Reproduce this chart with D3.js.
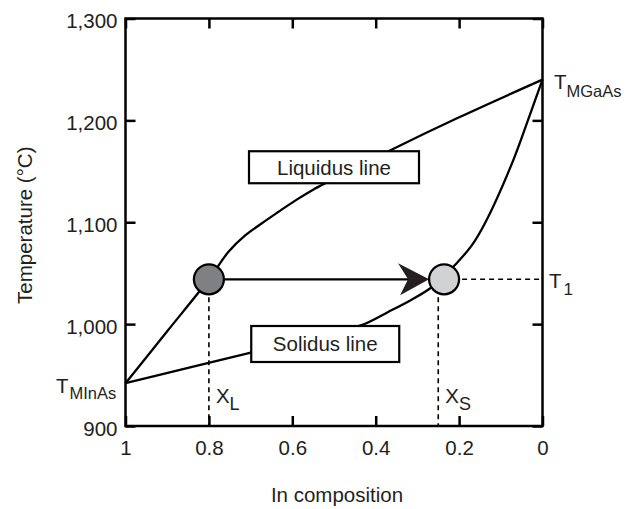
<!DOCTYPE html>
<html>
<head>
<meta charset="utf-8">
<script src="https://cdn.jsdelivr.net/npm/d3@7"></script>
<style>
  body { margin: 0; background: #fff; }
  svg { display: block; font-family: "Liberation Sans", Arial, Helvetica, sans-serif; }
</style>
</head>
<body>
<div id="chart"></div>
<script>
// In composition (x) vs temperature (y)
const xTicks = [1, 0.8, 0.6, 0.4, 0.2, 0];
const yTicks = [900, 1000, 1100, 1200, 1300];
const yTickLabels = ['900', '1,000', '1,100', '1,200', '1,300'];

const liquidus = [
  [1, 942], [0.9, 993], [0.8, 1044], [0.753, 1071], [0.713, 1087],
  [0.673, 1099], [0.634, 1110], [0.594, 1121], [0.55, 1132],
  [0.45, 1153], [0.373, 1169], [0.2, 1203], [0, 1240]
];
const solidus = [
  [1, 942], [0.85, 957], [0.7, 972], [0.55, 987], [0.434, 999],
  [0.37, 1012], [0.314, 1024], [0.27, 1035], [0.236, 1047], [0.21, 1058],
  [0.17, 1077], [0.138, 1099], [0.07, 1161], [0.035, 1200], [0, 1240]
];

const T1 = 1044;
const xL = 0.8;
const xS = 0.25;       // dashed drop line
const xSCircle = 0.236; // solid point on solidus

const width = 634, height = 509;
const margin = { top: 18.5, right: 91.5, bottom: 83, left: 125.5 };
const w = width - margin.left - margin.right;
const h = height - margin.top - margin.bottom;

const svg = d3.select('#chart').append('svg')
  .attr('width', width)
  .attr('height', height);

const g = svg.append('g')
  .attr('transform', `translate(${margin.left},${margin.top})`);

const x = d3.scaleLinear().domain([1, 0]).range([0, w]);
const y = d3.scaleLinear().domain([900, 1300]).range([h, 0]);

const fontSize = 20.5;
const ink = '#231f20';

// ticks on all four sides, pointing inward
const tickLen = 10;
g.append('g')
  .attr('transform', `translate(0,${h})`)
  .call(d3.axisBottom(x).tickValues(xTicks).tickSizeInner(-tickLen).tickSizeOuter(0).tickPadding(14).tickFormat(d => d3.format('')(d)))
  .call(a => a.select('.domain').remove())
  .call(a => a.selectAll('line').attr('stroke-width', 2.5))
  .call(a => a.selectAll('text').attr('font-size', fontSize).attr('fill', ink).attr('font-family', null));

g.append('g')
  .call(d3.axisTop(x).tickValues(xTicks).tickSizeInner(-tickLen).tickSizeOuter(0).tickFormat(''))
  .call(a => a.select('.domain').remove())
  .call(a => a.selectAll('line').attr('stroke-width', 2.5));

g.append('g')
  .call(d3.axisLeft(y).tickValues(yTicks).tickSizeInner(-tickLen).tickSizeOuter(0).tickPadding(8)
    .tickFormat((d, i) => yTickLabels[i]))
  .call(a => a.select('.domain').remove())
  .call(a => a.selectAll('line').attr('stroke-width', 2.5))
  .call(a => a.selectAll('text').attr('font-size', fontSize).attr('fill', ink).attr('font-family', null).attr('dy', '0.45em'));

g.append('g')
  .attr('transform', `translate(${w},0)`)
  .call(d3.axisRight(y).tickValues(yTicks).tickSizeInner(-tickLen).tickSizeOuter(0).tickFormat(''))
  .call(a => a.select('.domain').remove())
  .call(a => a.selectAll('line').attr('stroke-width', 2.5));

// frame
g.append('rect')
  .attr('width', w)
  .attr('height', h)
  .attr('fill', 'none')
  .attr('stroke', '#000')
  .attr('stroke-width', 2.5);

// axis titles
svg.append('text')
  .attr('x', margin.left + w / 2 + 3)
  .attr('y', 502)
  .attr('text-anchor', 'middle')
  .attr('font-size', fontSize)
  .attr('fill', ink)
  .text('In composition');

svg.append('text')
  .attr('transform', `translate(32,${margin.top + h / 2 + 3}) rotate(-90)`)
  .attr('text-anchor', 'middle')
  .attr('font-size', fontSize)
  .attr('fill', ink)
  .text('Temperature (°C)');

// dashed guide lines
const dash = '5,4';
g.append('line')
  .attr('x1', x(xL)).attr('x2', x(xL))
  .attr('y1', y(T1)).attr('y2', h)
  .attr('stroke', '#000').attr('stroke-width', 1.6).attr('stroke-dasharray', dash);
g.append('line')
  .attr('x1', x(xS)).attr('x2', x(xS))
  .attr('y1', y(T1)).attr('y2', h)
  .attr('stroke', '#000').attr('stroke-width', 1.6).attr('stroke-dasharray', dash);
g.append('line')
  .attr('x1', x(xSCircle)).attr('x2', w)
  .attr('y1', y(T1)).attr('y2', y(T1))
  .attr('stroke', '#000').attr('stroke-width', 1.6).attr('stroke-dasharray', dash);

// curves
const line = d3.line()
  .x(d => x(d[0]))
  .y(d => y(d[1]))
  .curve(d3.curveCatmullRom.alpha(0.5));

g.append('path')
  .datum(liquidus)
  .attr('fill', 'none')
  .attr('stroke', '#000')
  .attr('stroke-width', 2.3)
  .attr('d', line);

g.append('path')
  .datum(solidus)
  .attr('fill', 'none')
  .attr('stroke', '#000')
  .attr('stroke-width', 2.3)
  .attr('d', line);

// label boxes
const boxes = [
  { text: 'Liquidus line', cx: 0.5, cy: 1154, bw: 170, bh: 32 },
  { text: 'Solidus line', cx: 0.521, cy: 980.5, bw: 148, bh: 36 }
];
boxes.forEach(b => {
  g.append('rect')
    .attr('x', x(b.cx) - b.bw / 2)
    .attr('y', y(b.cy) - b.bh / 2)
    .attr('width', b.bw)
    .attr('height', b.bh)
    .attr('fill', '#fff')
    .attr('stroke', '#000')
    .attr('stroke-width', 2.2);
  g.append('text')
    .attr('x', x(b.cx))
    .attr('y', y(b.cy))
    .attr('dy', '0.36em')
    .attr('text-anchor', 'middle')
    .attr('font-size', fontSize)
    .attr('fill', ink)
    .text(b.text);
});

// arrow from liquid point to solid point
const r = 15;
const tipX = x(xSCircle) - r;
g.append('line')
  .attr('x1', x(xL) + r).attr('x2', tipX - 20)
  .attr('y1', y(T1)).attr('y2', y(T1))
  .attr('stroke', '#000').attr('stroke-width', 2.3);
g.append('path')
  .attr('d', `M${tipX},${y(T1)} L${tipX - 31},${y(T1) - 16} L${tipX - 21},${y(T1)} L${tipX - 29},${y(T1) + 16} Z`)
  .attr('fill', ink);

// points
g.append('circle')
  .attr('cx', x(xL)).attr('cy', y(T1)).attr('r', r)
  .attr('fill', '#7f8084').attr('stroke', '#000').attr('stroke-width', 2.3);
g.append('circle')
  .attr('cx', x(xSCircle)).attr('cy', y(T1)).attr('r', r)
  .attr('fill', '#d1d2d4').attr('stroke', '#000').attr('stroke-width', 2.3);

// text annotations with subscripts
function subLabel(px, py, main, sub, subSize, subDy, subDx) {
  const t = svg.append('text')
    .attr('x', px).attr('y', py)
    .attr('font-size', fontSize)
    .attr('fill', ink);
  t.append('tspan').text(main);
  t.append('tspan')
    .attr('dx', subDx || 0)
    .attr('dy', subDy)
    .attr('font-size', subSize)
    .text(sub);
}

subLabel(56, 393, 'T', 'MInAs', 16.5, 6, 1);
subLabel(554, 89, 'T', 'MGaAs', 16.5, 8, 0);
subLabel(549, 288, 'T', '1', 17, 7, 2);
subLabel(margin.left + x(xL) + 7, 403, 'X', 'L', 18, 7, 0);
subLabel(margin.left + x(xS) + 7, 403, 'X', 'S', 18, 7, 0);
</script>
</body>
</html>
